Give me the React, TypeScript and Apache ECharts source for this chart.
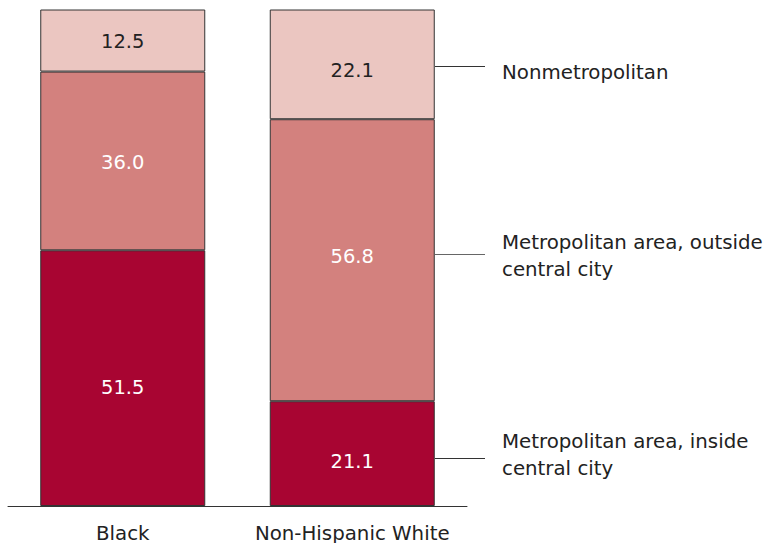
import React, { useEffect, useRef } from "react";
import * as echarts from "echarts";

const categories = ["Black", "Non-Hispanic White"];
const insideCity = [51.5, 21.1];
const outsideCity = [36.0, 56.8];
const nonMetro = [12.5, 22.1];
const seriesNames = [
  "Metropolitan area, inside central city",
  "Metropolitan area, outside central city",
  "Nonmetropolitan",
];

const FONT = "DejaVu Sans";

export default function App() {
  const ref = useRef<HTMLDivElement>(null);
  useEffect(() => {
    if (!ref.current) return;
    const chart = echarts.init(ref.current, undefined, { renderer: "svg" });
    const mk = (
      name: string,
      data: number[],
      color: string,
      labelColor: string,
      dy: number[]
    ) => ({
      name,
      type: "bar",
      stack: "total",
      data: data.map((v, i) => ({ value: v, label: { offset: [0, dy[i]] } })),
      barWidth: 165,
      itemStyle: { color, borderColor: "#333", borderWidth: 1 },
      label: {
        show: true,
        position: "inside",
        color: labelColor,
        fontFamily: FONT,
        fontSize: 19.5,
        formatter: (p: any) => Number(p.value).toFixed(1),
      },
    });
    const line = (y: number, stroke: string) => ({
      type: "line",
      shape: { x1: 435, y1: y, x2: 485, y2: y },
      style: { stroke, lineWidth: 1 },
    });
    const txt = (y: number, text: string) => ({
      type: "text",
      x: 502,
      y,
      style: {
        text,
        fontFamily: FONT,
        fontSize: 19.8,
        fill: "#222",
        lineHeight: 27,
        verticalAlign: "middle",
        align: "left",
      },
    });
    chart.setOption({
      animation: false,
      grid: { left: 8, right: 772 - 467, top: 9.5, bottom: 37 },
      xAxis: {
        type: "category",
        data: categories,
        axisLine: { lineStyle: { color: "#333", width: 1 } },
        axisTick: { show: false },
        axisLabel: {
          interval: 0,
          hideOverlap: false,
          fontFamily: FONT,
          fontSize: 19.8,
          color: "#222",
          margin: 17,
        },
      },
      yAxis: { type: "value", min: 0, max: 100, show: false },
      series: [
        mk(seriesNames[0], insideCity, "#A80532", "#fff", [9, 8]),
        mk(seriesNames[1], outsideCity, "#D3817E", "#fff", [2, -4]),
        mk(seriesNames[2], nonMetro, "#EBC6C1", "#222", [1, 6]),
      ],
      graphic: [
        line(66.5, "#333"),
        txt(72, "Nonmetropolitan"),
        line(254.5, "#666"),
        txt(256, "Metropolitan area, outside\ncentral city"),
        line(458.5, "#333"),
        txt(455, "Metropolitan area, inside\ncentral city"),
      ],
    });
    return () => chart.dispose();
  }, []);
  return <div ref={ref} style={{ width: 772, height: 543, position: "absolute", left: 0, top: 0 }} />;
}
